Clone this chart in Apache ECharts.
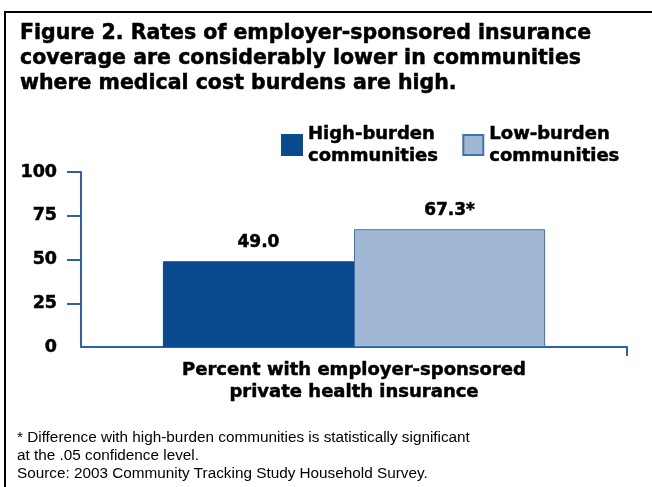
<!DOCTYPE html>
<html><head><meta charset="utf-8">
<script src="https://cdn.jsdelivr.net/npm/echarts@6/dist/echarts.min.js"></script>
<style>html,body{margin:0;padding:0;background:#fff}#c{width:652px;height:487px}</style>
</head><body><div id="c"></div>
<script>
const categories = ['Percent with employer-sponsored\nprivate health insurance'];
const seriesNames = ['High-burden\ncommunities', 'Low-burden\ncommunities'];
const highBurden = [49.0];
const lowBurden = [67.3];
const valueLabels = [['49.0'], ['67.3*']];
const yTicks = [0, 25, 50, 75, 100];
const titleLines = ['Figure 2. Rates of employer-sponsored insurance', 'coverage are considerably lower in communities', 'where medical cost burdens are high.'];
const footLines = ['* Difference with high-burden communities is statistically significant', 'at the .05 confidence level.', 'Source: 2003 Community Tracking Study Household Survey.'];

const BOLD = '"DejaVu Sans", Verdana, sans-serif';
const FONT = '"Liberation Sans", Arial, sans-serif';
const axisColor = '#2f5fa6';
const heavy = {textBorderColor: '#000', textBorderWidth: 0.5};
const chart = echarts.init(document.getElementById('c'), null, {renderer: 'canvas'});
chart.setOption({
  animation: false,
  backgroundColor: '#fff',
  textStyle: {fontFamily: FONT},
  title: [{
    text: titleLines.join('\n'), left: 15, top: 16,
    textStyle: Object.assign({fontFamily: BOLD, fontSize: 20.5, fontWeight: 'bold', color: '#000', lineHeight: 25}, heavy)
  }, {
    text: footLines.join('\n'), left: 12, top: 424,
    textStyle: {fontFamily: FONT, fontSize: 15.3, fontWeight: 'normal', color: '#000', lineHeight: 18}
  }],
  graphic: [{
    type: 'rect', shape: {x: 5, y: 12, width: 800, height: 600},
    style: {fill: 'none', stroke: '#000', lineWidth: 2}, silent: true
  }],
  legend: {
    left: 276, top: 118, itemWidth: 20, itemHeight: 20, itemGap: 24,
    textStyle: Object.assign({fontFamily: BOLD, fontSize: 18, fontWeight: 'bold', color: '#000', lineHeight: 22, padding: [0,0,0,1]}, heavy),
    data: seriesNames.map(n => ({name: n, icon: 'rect'}))
  },
  grid: {left: 81, right: 25, top: 172, bottom: 140},
  xAxis: [{
    type: 'category', data: categories,
    axisLine: {lineStyle: {color: axisColor, width: 2}},
    axisTick: {show: false},
    axisLabel: Object.assign({margin: 12, fontFamily: BOLD, fontSize: 18, fontWeight: 'bold', color: '#000', lineHeight: 22}, heavy)
  }, {
    type: 'value', min: 0, max: 1, position: 'bottom',
    axisLine: {show: false}, splitLine: {show: false}, axisLabel: {show: false},
    axisTick: {show: true, length: 9, customValues: [1], lineStyle: {color: axisColor, width: 2}}
  }],
  yAxis: {
    type: 'value', min: 0, max: 100, interval: 25,
    axisLine: {show: true, lineStyle: {color: axisColor, width: 2}},
    axisTick: {show: true, length: 14, customValues: yTicks.slice(1), lineStyle: {color: axisColor, width: 2}},
    splitLine: {show: false},
    axisLabel: Object.assign({margin: 24, customValues: yTicks, fontFamily: BOLD, fontSize: 17.5, fontWeight: 'bold', color: '#000'}, heavy)
  },
  series: [{
    name: seriesNames[0], type: 'bar', data: highBurden, barGap: 0, barCategoryGap: '30%',
    itemStyle: {color: '#0a4a8e', borderColor: '#0a4a8e', borderWidth: 1},
    label: Object.assign({show: true, position: 'top', distance: 10, formatter: p => valueLabels[0][p.dataIndex],
      fontFamily: BOLD, fontSize: 17, fontWeight: 'bold', color: '#000'}, heavy)
  }, {
    name: seriesNames[1], type: 'bar', data: lowBurden, barGap: 0, barCategoryGap: '30%',
    itemStyle: {color: '#a0b8d4', borderColor: '#3f72b4', borderWidth: 1},
    label: Object.assign({show: true, position: 'top', distance: 10, formatter: p => valueLabels[1][p.dataIndex],
      fontFamily: BOLD, fontSize: 17, fontWeight: 'bold', color: '#000'}, heavy)
  }]
});
</script></body></html>
